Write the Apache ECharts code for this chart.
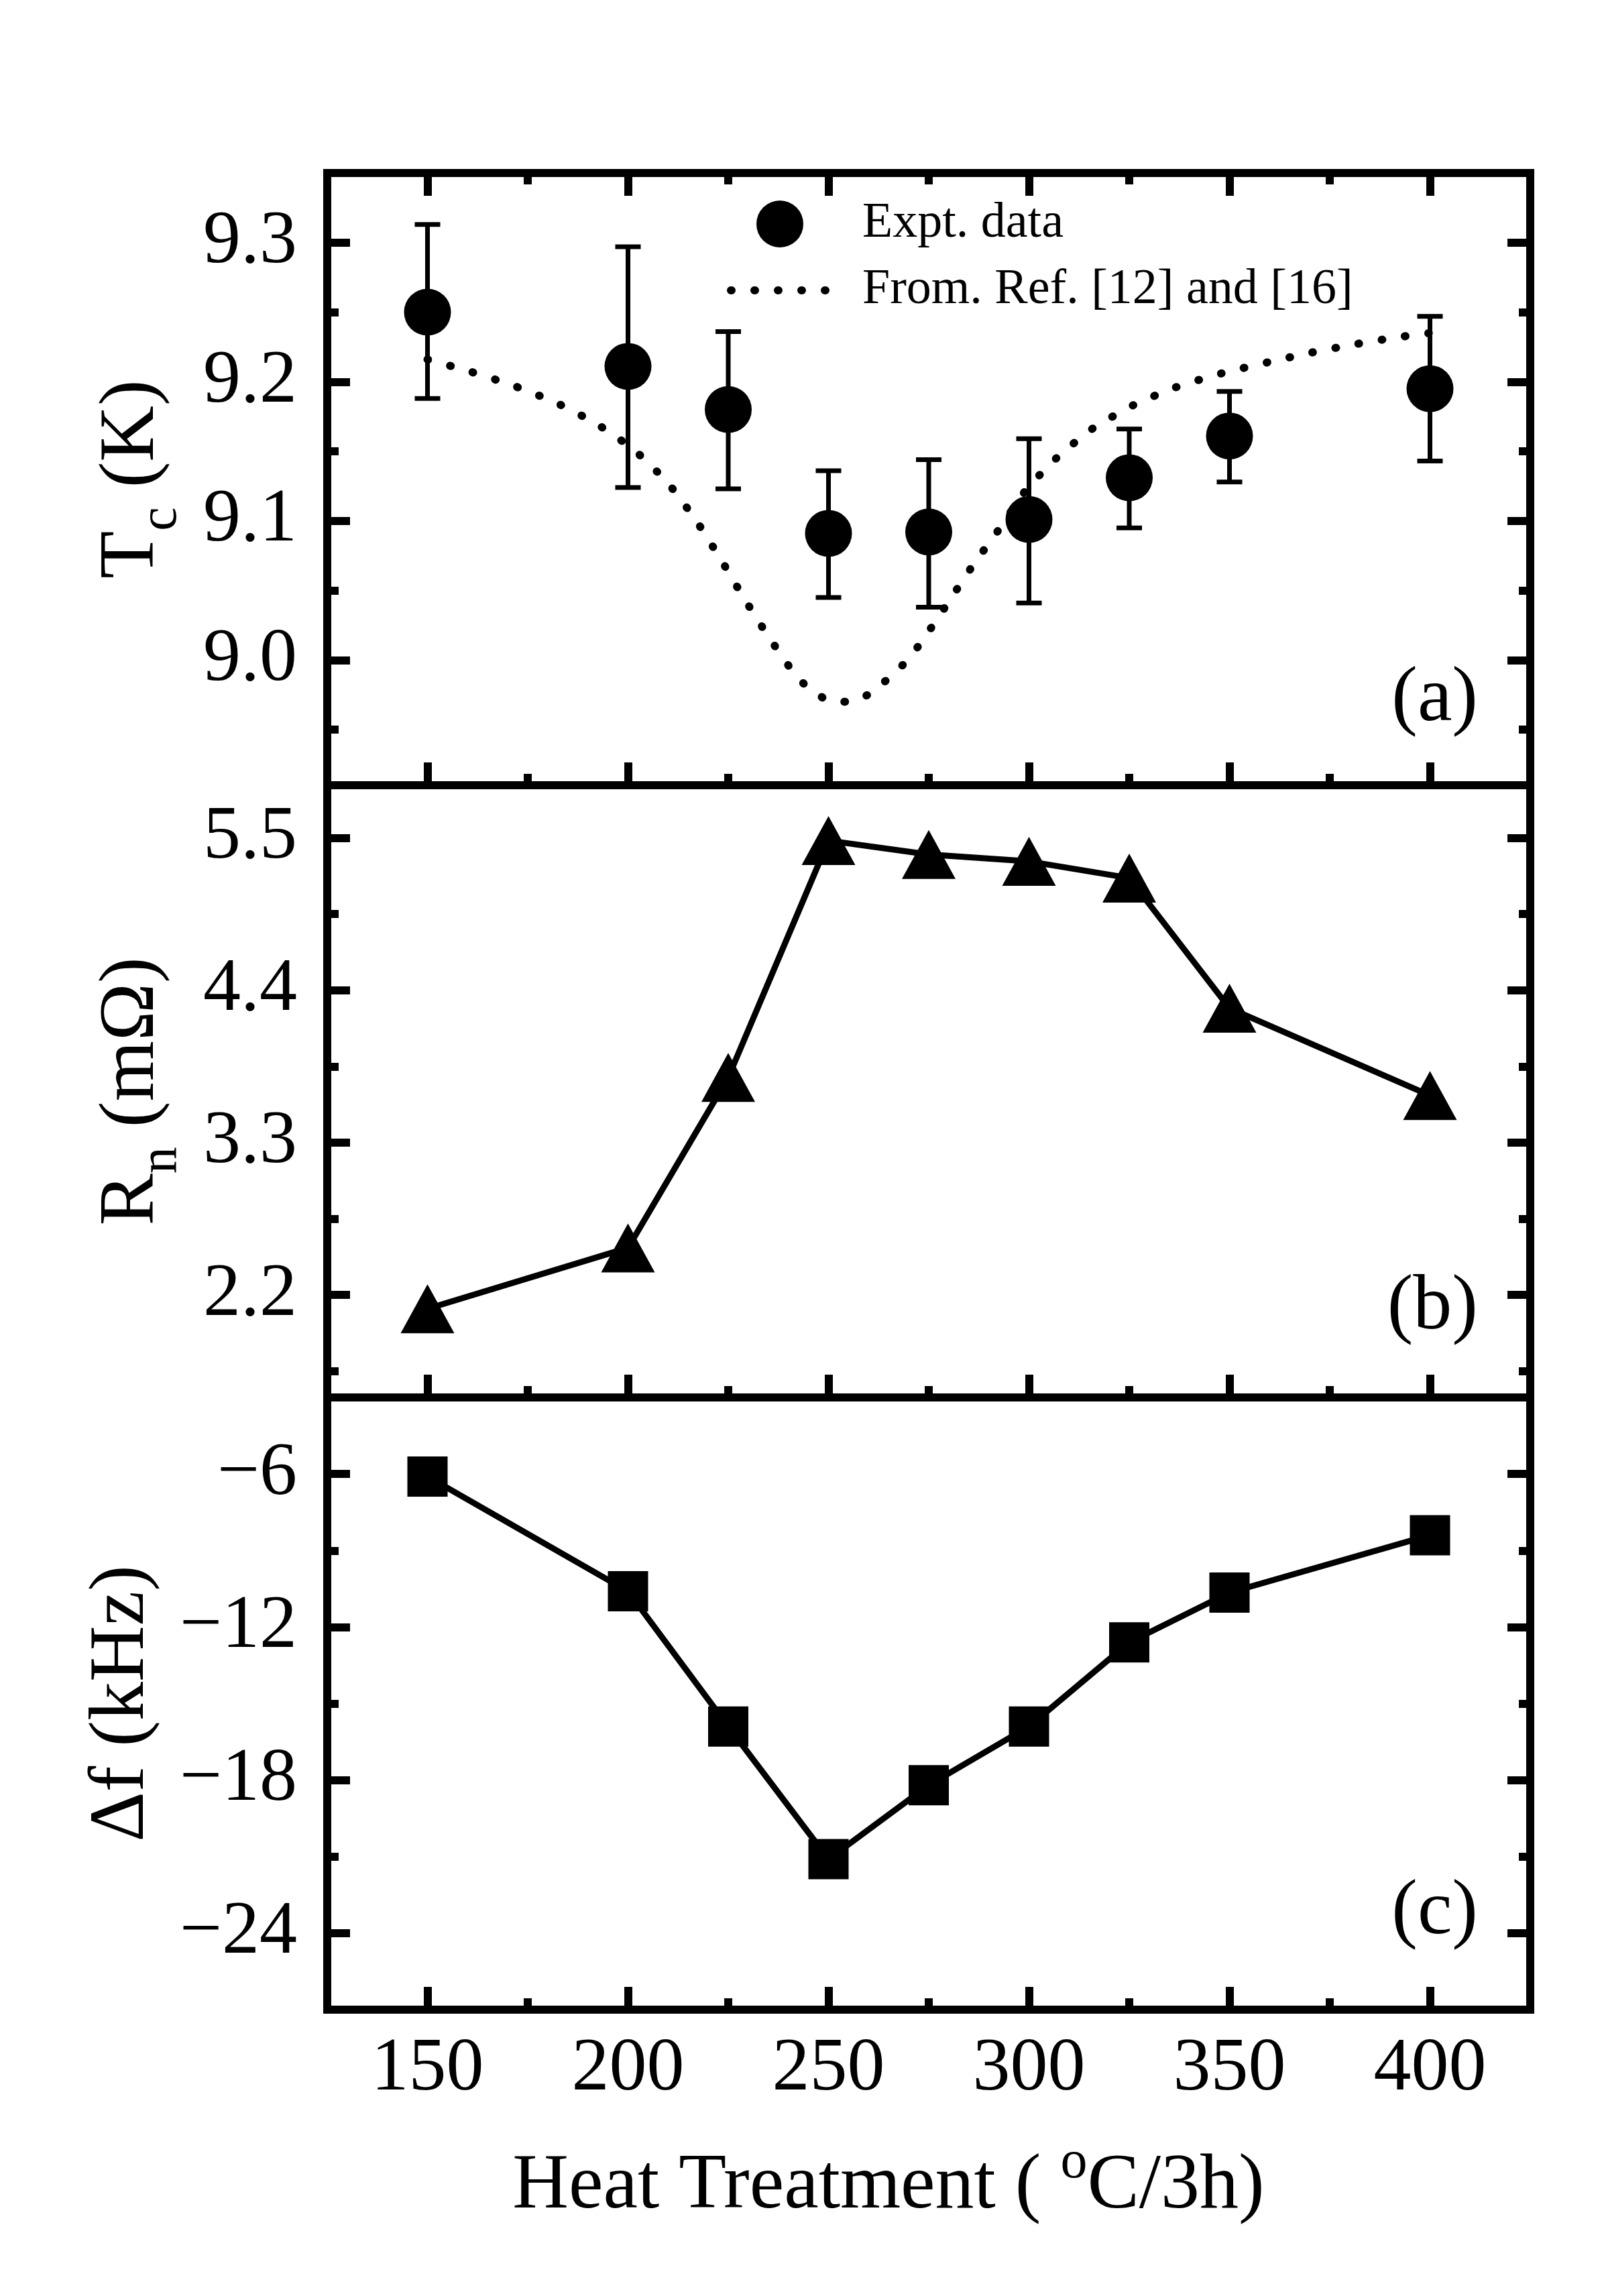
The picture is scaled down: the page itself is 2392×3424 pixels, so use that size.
<!DOCTYPE html>
<html>
<head>
<meta charset="utf-8">
<script src="https://cdn.jsdelivr.net/npm/echarts@6/dist/echarts.min.js"></script>
<style>
  html, body { margin: 0; padding: 0; background: #fff; }
  #chart { width: 2392px; height: 3424px; }
</style>
</head>
<body>
<div id="chart"></div>
<script>
// heat treatment temperatures (x) shared by all three panels
const temps = [150, 200, 225, 250, 275, 300, 325, 350, 400];

// (a) Tc with error bars
const tcVals = [9.25, 9.211, 9.18, 9.091, 9.092, 9.101, 9.131, 9.161, 9.195];
const tcHigh = [9.313, 9.297, 9.236, 9.136, 9.144, 9.159, 9.166, 9.193, 9.247];
const tcLow = [9.188, 9.124, 9.123, 9.045, 9.038, 9.041, 9.095, 9.128, 9.143];

// (a) reference curve
const refT = [150, 161, 171.6, 182, 192, 201.5, 209.7, 216.8, 223, 228.8, 235, 241.3, 245.7, 251.2,
  255.9, 260.9, 265, 269.4, 273.2, 276.5, 280, 286, 292.8, 299.2, 306.8, 315.7, 325.9, 336.6,
  348, 359.6, 370.5, 381.5, 392, 400];
const refTc = [9.216, 9.207, 9.197, 9.185, 9.170, 9.151, 9.128, 9.101, 9.073, 9.045, 9.017, 8.991,
  8.978, 8.970, 8.970, 8.977, 8.987, 8.999, 9.013, 9.027, 9.042, 9.068, 9.095, 9.122, 9.145,
  9.166, 9.183, 9.196, 9.206, 9.214, 9.221, 9.227, 9.232, 9.235];

// (b) Rn and (c) delta f
const rnVals = [2.10, 2.54, 3.77, 5.48, 5.38, 5.33, 5.21, 4.27, 3.64];
const dfVals = [-6.1, -10.6, -15.9, -21.1, -18.2, -15.9, -12.6, -10.65, -8.4];

// ticks
const xMajor = [150, 200, 250, 300, 350, 400];
const xMinor = [175, 225, 275, 325, 375];
const tcMajor = [9.0, 9.1, 9.2, 9.3];
const tcMinor = [8.95, 9.05, 9.15, 9.25];
const rnMajor = [2.2, 3.3, 4.4, 5.5];
const rnMinor = [1.65, 2.75, 3.85, 4.95];
const dfMajor = [-24, -18, -12, -6];
const dfMinor = [-21, -15, -9];

const panelTags = ['(a)', '(b)', '(c)'];
const legendNames = ['Expt. data', 'From. Ref. [12] and [16]'];

const FONT = '"Liberation Serif", "Times New Roman", serif';
const LW = 12;
const GRID_TOP = 258, GRID_H = 913, GRID_LEFT = 488, GRID_RIGHT = 110;
const dotted = { color: '#000', width: 12, type: [1, 34], cap: 'round' };

const panels = [
  { min: 8.91, max: 9.35, major: tcMajor, minor: tcMinor, fmt: v => v.toFixed(1),
    name: '{m|T}{s|c}{m| (K)}', gap: 200 },
  { min: 1.46, max: 5.88, major: rnMajor, minor: rnMinor, fmt: v => v.toFixed(1),
    name: '{m|R}{s|n}{m| (m\u03A9)}', gap: 200 },
  { min: -27, max: -3, major: dfMajor, minor: dfMinor, fmt: v => '\u2212' + Math.abs(v),
    name: '{m|\u0394f (kHz)}', gap: 215 }
];

const frameLine = { show: true, onZero: false, lineStyle: { color: '#000', width: LW, cap: 'square' } };
const tickMajor = vals => ({ show: true, inside: true, length: 34, customValues: vals, lineStyle: { color: '#000', width: LW } });
const tickMinor = vals => ({ show: true, inside: true, length: 17, customValues: vals, lineStyle: { color: '#000', width: LW } });
const noTick = { show: false };
const rich = {
  m: { fontFamily: FONT, fontSize: 116, color: '#000', lineHeight: 180 },
  s: { fontFamily: FONT, fontSize: 80, color: '#000', padding: [86, 0, 0, 0] },
  u: { fontFamily: FONT, fontSize: 80, color: '#000', padding: [0, 0, 72, 0] }
};

const grids = [], xAxes = [], yAxes = [];
panels.forEach((p, i) => {
  grids.push({ left: GRID_LEFT, right: GRID_RIGHT, top: GRID_TOP + i * GRID_H, height: GRID_H });
  const last = i === panels.length - 1;
  const xb = { gridIndex: i, type: 'value', min: 125, max: 425, splitLine: { show: false } };
  xAxes.push(
    Object.assign({}, xb, {
      position: 'bottom', axisLine: frameLine, axisTick: tickMajor(xMajor),
      axisLabel: { show: last, customValues: xMajor, margin: 34, fontFamily: FONT, fontSize: 112, color: '#000' },
      name: last ? '{m|Heat Treatment ( }{u|o}{m|C/3h)}' : '',
      nameLocation: 'middle', nameGap: 175,
      nameTextStyle: { rich: rich, padding: [0, 120, 0, 0] }
    }),
    Object.assign({}, xb, { position: 'bottom', axisLine: { show: false }, axisTick: tickMinor(xMinor), axisLabel: { show: false } }),
    Object.assign({}, xb, { position: 'top', axisLine: frameLine, axisTick: i === 0 ? tickMajor(xMajor) : noTick, axisLabel: { show: false } }),
    Object.assign({}, xb, { position: 'top', axisLine: { show: false }, axisTick: i === 0 ? tickMinor(xMinor) : noTick, axisLabel: { show: false } })
  );
  const yb = { gridIndex: i, type: 'value', min: p.min, max: p.max, splitLine: { show: false } };
  yAxes.push(
    Object.assign({}, yb, {
      position: 'left', axisLine: frameLine, axisTick: tickMajor(p.major),
      axisLabel: { customValues: p.major, formatter: p.fmt, margin: 45, fontFamily: FONT, fontSize: 112, color: '#000' },
      name: p.name, nameLocation: 'middle', nameRotate: 90, nameGap: p.gap,
      nameTextStyle: { rich: rich }
    }),
    Object.assign({}, yb, { position: 'left', axisLine: { show: false }, axisTick: tickMinor(p.minor), axisLabel: { show: false } }),
    Object.assign({}, yb, { position: 'right', axisLine: frameLine, axisTick: tickMajor(p.major), axisLabel: { show: false } }),
    Object.assign({}, yb, { position: 'right', axisLine: { show: false }, axisTick: tickMinor(p.minor), axisLabel: { show: false } })
  );
});

const pairs = (xs, ys) => xs.map((x, k) => [x, ys[k]]);

const option = {
  animation: false,
  backgroundColor: '#fff',
  grid: grids,
  xAxis: xAxes,
  yAxis: yAxes,
  legend: {
    data: [
      { name: legendNames[0], icon: 'circle', itemStyle: { color: '#000', opacity: 1 } },
      { name: legendNames[1], itemStyle: { opacity: 0 }, lineStyle: dotted }
    ],
    orient: 'vertical', left: 1079, top: 292,
    itemWidth: 146, itemHeight: 70, itemGap: 25,
    selectedMode: false,
    textStyle: { fontFamily: FONT, fontSize: 74, color: '#000', padding: [0, 0, 0, 45] }
  },
  graphic: panelTags.map((t, i) => ({
    type: 'text', x: 2204, y: [1044, 1951, 2853][i],
    style: { text: t, fontFamily: FONT, fontSize: 116, fill: '#000', align: 'right', verticalAlign: 'middle' }
  })),
  series: [
    {
      name: legendNames[1], type: 'line', xAxisIndex: 0, yAxisIndex: 0,
      data: pairs(refT, refTc), symbol: 'none', smooth: 0.2, z: 2,
      itemStyle: { color: '#000' }, lineStyle: dotted
    },
    {
      name: 'errorbars', type: 'custom', xAxisIndex: 0, yAxisIndex: 0, z: 3,
      data: temps.map((x, k) => [x, tcLow[k], tcHigh[k]]),
      encode: { x: 0, y: [1, 2] },
      renderItem: function (params, api) {
        const x = api.value(0);
        const lo = api.coord([x, api.value(1)]);
        const hi = api.coord([x, api.value(2)]);
        const hw = 19;
        const st = { stroke: '#000', lineWidth: 7 };
        return {
          type: 'group',
          children: [
            { type: 'line', shape: { x1: lo[0], y1: lo[1], x2: hi[0], y2: hi[1] }, style: st },
            { type: 'line', shape: { x1: hi[0] - hw, y1: hi[1], x2: hi[0] + hw, y2: hi[1] }, style: st },
            { type: 'line', shape: { x1: lo[0] - hw, y1: lo[1], x2: lo[0] + hw, y2: lo[1] }, style: st }
          ]
        };
      }
    },
    {
      name: legendNames[0], type: 'scatter', xAxisIndex: 0, yAxisIndex: 0, z: 4,
      data: pairs(temps, tcVals), symbol: 'circle', symbolSize: 70,
      itemStyle: { color: '#000', opacity: 1 }
    },
    {
      name: 'Rn', type: 'line', xAxisIndex: 4, yAxisIndex: 4,
      data: pairs(temps, rnVals), symbol: 'triangle', symbolSize: [80, 73],
      itemStyle: { color: '#000' }, lineStyle: { color: '#000', width: 9 }
    },
    {
      name: 'df', type: 'line', xAxisIndex: 8, yAxisIndex: 8,
      data: pairs(temps, dfVals), symbol: 'rect', symbolSize: 60,
      itemStyle: { color: '#000' }, lineStyle: { color: '#000', width: 9 }
    }
  ]
};

const chart = echarts.init(document.getElementById('chart'), null, { renderer: 'canvas' });
chart.setOption(option);
</script>
</body>
</html>
